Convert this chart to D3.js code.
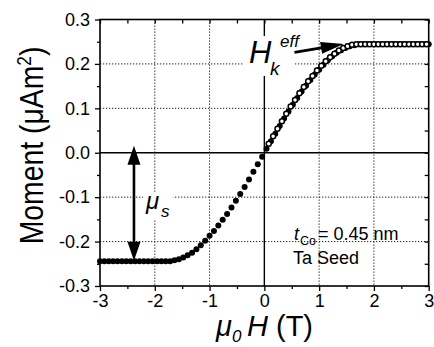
<!DOCTYPE html>
<html>
<head>
<meta charset="utf-8">
<script src="https://cdn.jsdelivr.net/npm/d3@7/dist/d3.min.js"></script>
<style>
  html, body { margin: 0; padding: 0; background: #fff; }
  svg { display: block; }
  text { font-family: "Liberation Sans", Arial, Helvetica, sans-serif; fill: #000; }
</style>
</head>
<body>
<svg id="chart" width="434" height="347"></svg>
<script>
// Applied field (T) and moment (µAm²) for the up-sweep (filled markers)
const fieldUp = [-3.00,-2.92,-2.84,-2.76,-2.68,-2.60,-2.52,-2.44,-2.36,-2.28,-2.20,-2.12,-2.04,-1.96,-1.88,-1.80,-1.72,
  -1.64,-1.56,-1.48,-1.40,-1.32,-1.24,-1.16,-1.08,-1.00,-0.92,-0.84,-0.76,-0.68,-0.60,-0.52,-0.44,-0.36,-0.28,-0.20,-0.12,-0.04,
  0.04,0.12,0.20,0.28,0.36,0.44,0.52,0.60,0.68,0.76,0.84,0.92,1.00,1.08,1.16,1.24,1.32,1.40,1.48,1.56,1.64,
  1.72,1.80,1.88,1.96,2.04,2.12,2.20,2.28,2.36,2.44,2.52,2.60,2.68,2.76,2.84,2.92,3.00];
const momentUp = [-0.244,-0.244,-0.244,-0.244,-0.244,-0.244,-0.244,-0.244,-0.244,-0.244,-0.244,-0.244,-0.244,-0.244,-0.244,-0.244,-0.244,
  -0.242,-0.240,-0.236,-0.231,-0.225,-0.217,-0.208,-0.198,-0.187,-0.176,-0.164,-0.151,-0.138,-0.123,-0.108,-0.093,-0.077,-0.060,-0.043,-0.026,-0.009,
  0.009,0.026,0.043,0.060,0.077,0.093,0.108,0.123,0.138,0.151,0.164,0.176,0.187,0.198,0.208,0.217,0.225,0.231,0.236,0.240,0.242,
  0.244,0.244,0.244,0.244,0.244,0.244,0.244,0.244,0.244,0.244,0.244,0.244,0.244,0.244,0.244,0.244,0.244];

// Down-sweep branch on the positive-field side (open markers)
const fieldDown = [0.08,0.16,0.24,0.32,0.40,0.48,0.56,0.64,0.72,0.80,0.88,0.96,1.04,1.12,1.20,1.28,1.36,1.44,1.52,1.60,
  1.68,1.76,1.84,1.92,2.00,2.08,2.16,2.24,2.32,2.40,2.48,2.56,2.64,2.72,2.80,2.88,2.96];
const momentDown = [0.020,0.037,0.054,0.071,0.088,0.104,0.119,0.134,0.148,0.161,0.173,0.185,0.196,0.206,0.215,0.223,0.230,0.236,0.240,0.243,
  0.244,0.244,0.244,0.244,0.244,0.244,0.244,0.244,0.244,0.244,0.244,0.244,0.244,0.244,0.244,0.244,0.244];

// Axis ticks and labels
const xTicks = [-3, -2, -1, 0, 1, 2, 3];
const xTickLabels = ["-3", "-2", "-1", "0", "1", "2", "3"];
const xMinor = [-2.5, -1.5, -0.5, 0.5, 1.5, 2.5];
const yTicks = [-0.3, -0.2, -0.1, 0.0, 0.1, 0.2, 0.3];
const yTickLabels = ["-0.3", "-0.2", "-0.1", "0.0", "0.1", "0.2", "0.3"];
const yMinor = [-0.25, -0.15, -0.05, 0.05, 0.15, 0.25];
const xGrid = [-2, -1, 1, 2];
const yGrid = [-0.2, -0.1, 0.1, 0.2];

const svg = d3.select("#chart");
const plotLeft = 100, plotRight = 428.7, plotTop = 19.5, plotBottom = 286;

const x = d3.scaleLinear().domain([-3, 3]).range([plotLeft, plotRight]);
const y = d3.scaleLinear().domain([-0.3, 0.3]).range([plotBottom, plotTop]);

svg.append("rect").attr("width", 434).attr("height", 347).attr("fill", "#fff");

// Dotted grid
const grid = svg.append("g").attr("stroke", "#222").attr("stroke-width", 1)
  .attr("stroke-dasharray", "1.3,1.7");
grid.selectAll("line.gx").data(xGrid).join("line").attr("class", "gx")
  .attr("x1", d => x(d)).attr("x2", d => x(d)).attr("y1", plotTop).attr("y2", plotBottom);
grid.selectAll("line.gy").data(yGrid).join("line").attr("class", "gy")
  .attr("y1", d => y(d)).attr("y2", d => y(d)).attr("x1", plotLeft).attr("x2", plotRight);

// Zero lines
svg.append("line").attr("x1", x(0)).attr("x2", x(0)).attr("y1", plotTop).attr("y2", plotBottom)
  .attr("stroke", "#000").attr("stroke-width", 1.4);
svg.append("line").attr("x1", plotLeft).attr("x2", plotRight).attr("y1", y(0)).attr("y2", y(0))
  .attr("stroke", "#000").attr("stroke-width", 1.4);

// Axes: outer ticks on bottom/left, inner ticks on top/right
const axisStyle = g => {
  g.select(".domain").remove();
  g.selectAll("line").attr("stroke", "#000").attr("stroke-width", 1.3);
};
const labelStyle = g => g.selectAll("text").attr("font-size", 18)
  .attr("font-family", "Liberation Sans, Arial, sans-serif").attr("fill", "#000");

svg.append("g").attr("transform", `translate(0,${plotBottom})`)
  .call(d3.axisBottom(x).tickValues(xMinor).tickSize(3).tickFormat(""))
  .call(axisStyle);
svg.append("g").attr("transform", `translate(0,${plotBottom})`)
  .call(d3.axisBottom(x).tickValues(xTicks).tickSize(5).tickPadding(3)
    .tickFormat((d, i) => xTickLabels[i]))
  .call(axisStyle).call(labelStyle);
svg.append("g").attr("transform", `translate(${plotLeft},0)`)
  .call(d3.axisLeft(y).tickValues(yMinor).tickSize(3).tickFormat(""))
  .call(axisStyle);
svg.append("g").attr("transform", `translate(${plotLeft},0)`)
  .call(d3.axisLeft(y).tickValues(yTicks).tickSize(5).tickPadding(5)
    .tickFormat((d, i) => yTickLabels[i]))
  .call(axisStyle).call(labelStyle);
svg.append("g").attr("transform", `translate(0,${plotTop})`)
  .call(d3.axisTop(x).tickValues(xTicks.concat(xMinor)).tickSize(-4).tickFormat(""))
  .call(axisStyle);
svg.append("g").attr("transform", `translate(${plotRight},0)`)
  .call(d3.axisRight(y).tickValues(yTicks.concat(yMinor)).tickSize(-4).tickFormat(""))
  .call(axisStyle);

// Frame
svg.append("rect").attr("x", plotLeft).attr("y", plotTop)
  .attr("width", plotRight - plotLeft).attr("height", plotBottom - plotTop)
  .attr("fill", "none").attr("stroke", "#000").attr("stroke-width", 1.6);

// Label backdrops that interrupt the grid
svg.append("rect").attr("x", 143).attr("y", 192).attr("width", 30).attr("height", 28).attr("fill", "#fff");
svg.append("rect").attr("x", 244).attr("y", 36).attr("width", 50).attr("height", 40).attr("fill", "#fff");

// Data markers
svg.append("g").selectAll("circle").data(fieldUp).join("circle")
  .attr("cx", d => x(d)).attr("cy", (d, i) => y(momentUp[i])).attr("r", 3).attr("fill", "#000");
svg.append("g").selectAll("circle").data(fieldDown).join("circle")
  .attr("cx", d => x(d)).attr("cy", (d, i) => y(momentDown[i])).attr("r", 2.5)
  .attr("fill", "#fff").attr("stroke", "#000").attr("stroke-width", 1.5);

// Arrow: shaft plus filled triangular heads
function arrowHead(tx, ty, fx, fy, len, half) {
  const dx = tx - fx, dy = ty - fy, n = Math.hypot(dx, dy);
  const ux = dx / n, uy = dy / n, bx = tx - ux * len, by = ty - uy * len;
  return `M${tx},${ty}L${bx - uy * half},${by + ux * half}L${bx + uy * half},${by - ux * half}Z`;
}
function arrow(x1, y1, x2, y2, both, len, half, w) {
  const g = svg.append("g");
  const dx = x2 - x1, dy = y2 - y1, n = Math.hypot(dx, dy);
  const sx = both ? x1 + dx / n * len * 0.8 : x1, sy = both ? y1 + dy / n * len * 0.8 : y1;
  g.append("line").attr("x1", sx).attr("y1", sy)
    .attr("x2", x2 - dx / n * len * 0.8).attr("y2", y2 - dy / n * len * 0.8)
    .attr("stroke", "#000").attr("stroke-width", w);
  g.append("path").attr("d", arrowHead(x2, y2, x1, y1, len, half)).attr("fill", "#000");
  if (both) g.append("path").attr("d", arrowHead(x1, y1, x2, y2, len, half)).attr("fill", "#000");
}

// Saturation moment arrow
arrow(x(-2.38), y(0.016), x(-2.38), y(-0.243), true, 19, 6.5, 2.6);
// Anisotropy field arrow
arrow(x(0.55), y(0.226), x(1.45), y(0.245), false, 23, 6, 2.8);

// Annotation labels
const mu = svg.append("text").attr("x", 146).attr("y", 209).attr("font-size", 24).attr("font-style", "italic");
mu.append("tspan").text("μ");
mu.append("tspan").attr("x", 161).attr("y", 217).attr("font-size", 17).text("s");

const hk = svg.append("text").attr("font-style", "italic");
hk.append("tspan").attr("x", 249).attr("y", 63).attr("font-size", 31).text("H");
hk.append("tspan").attr("x", 270).attr("y", 75).attr("font-size", 19).text("k");
hk.append("tspan").attr("x", 280).attr("y", 47).attr("font-size", 17).text("eff");

const tco = svg.append("text").attr("font-size", 18);
tco.append("tspan").attr("x", 294).attr("y", 240).attr("font-style", "italic").text("t");
tco.append("tspan").attr("x", 300).attr("y", 245).attr("font-size", 12.5).text("Co");
tco.append("tspan").attr("x", 318).attr("y", 240).text("= 0.45 nm");
svg.append("text").attr("x", 293).attr("y", 264).attr("font-size", 18).text("Ta Seed");

// Axis titles
const yt = svg.append("text")
  .attr("transform", "translate(43,145.5) rotate(-90) scale(0.86,1)")
  .attr("text-anchor", "middle").attr("font-size", 33);
yt.append("tspan").text("Moment (μAm");
yt.append("tspan").attr("dy", -12).attr("font-size", 20).text("2");
yt.append("tspan").attr("dy", 12).text(")");

const xt = svg.append("text").attr("font-size", 29);
xt.append("tspan").attr("x", 216).attr("y", 336).attr("font-style", "italic").text("μ");
xt.append("tspan").attr("x", 232).attr("y", 342).attr("font-size", 17).attr("font-style", "italic").text("0");
xt.append("tspan").attr("x", 247).attr("y", 336).attr("font-style", "italic").text("H");
xt.append("tspan").attr("x", 276).attr("y", 336).text("(T)");
</script>
</body>
</html>
